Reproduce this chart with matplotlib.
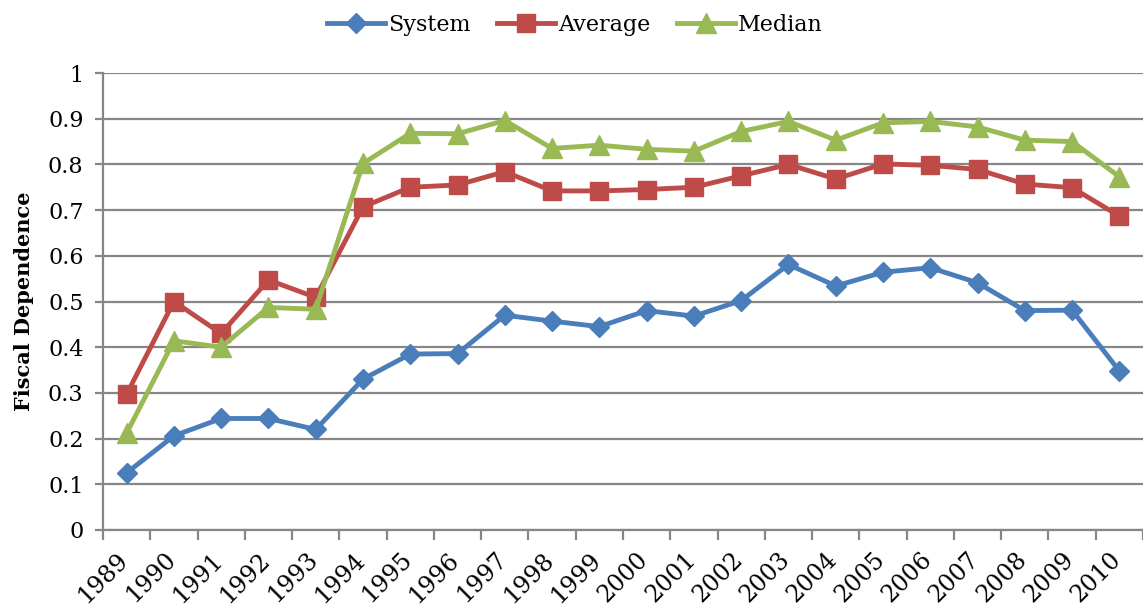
#!/usr/bin/env python3
"""Fiscal dependence 1989-2010: system, average and median (Excel-style line chart)."""
import numpy as np
import matplotlib
matplotlib.use('Agg')
import matplotlib.pyplot as plt
from matplotlib.transforms import ScaledTranslation

# data
years = [str(y) for y in range(1989, 2011)]
system = [0.125, 0.206, 0.244, 0.244, 0.220, 0.330, 0.385, 0.386, 0.470, 0.457, 0.445,
          0.480, 0.468, 0.502, 0.581, 0.534, 0.564, 0.574, 0.541, 0.480, 0.481, 0.348]
average = [0.297, 0.500, 0.430, 0.547, 0.509, 0.707, 0.750, 0.755, 0.784, 0.742, 0.742,
           0.745, 0.750, 0.775, 0.800, 0.768, 0.801, 0.798, 0.789, 0.757, 0.749, 0.687]
median = [0.212, 0.414, 0.400, 0.487, 0.483, 0.802, 0.868, 0.867, 0.896, 0.835, 0.842,
          0.833, 0.829, 0.872, 0.894, 0.853, 0.891, 0.894, 0.882, 0.853, 0.850, 0.773]
yticks = [0, 0.1, 0.2, 0.3, 0.4, 0.5, 0.6, 0.7, 0.8, 0.9, 1]
ytick_labels = ['0', '0.1', '0.2', '0.3', '0.4', '0.5', '0.6', '0.7', '0.8', '0.9', '1']

plt.rcParams['font.family'] = ['DejaVu Serif']
GRID = '#868686'

fig = plt.figure(figsize=(11.43, 6.07), dpi=100)
# plot area runs past the right edge (the reference is cropped there)
ax = fig.add_axes([103 / 1143, 77 / 607, 1040 / 1143, 457 / 607])

x = np.arange(len(years))
ax.plot(x, system, color='#4A7EBB', lw=3.5, marker='D', ms=10, label='System', zorder=3)
ax.plot(x, average, color='#BE4B48', lw=3.5, marker='s', ms=13, label='Average', zorder=3)
ax.plot(x, median, color='#98B954', lw=3.5, marker='^', ms=14, label='Median', zorder=3)

# 47.5 px per category, 1040 px of axes inside the figure
ax.set_xlim(-0.5, -0.5 + 1040 / 47.5)
ax.set_ylim(0, 1)

# y axis
ax.set_yticks(yticks)
ax.set_yticklabels(ytick_labels, fontsize=16)
ax.yaxis.grid(True, color=GRID, lw=1.6)
ax.set_axisbelow(True)
ax.tick_params(axis='y', length=6, width=1.6, color=GRID, pad=8)
ax.set_ylabel('Fiscal Dependence', fontsize=15, fontweight='bold', labelpad=10)

# x axis: labels at category centres, tick marks at boundaries
ax.set_xticks(x)
ax.set_xticklabels(years, fontsize=17, rotation=45, ha='right', va='top',
                   rotation_mode='anchor')
ax.tick_params(axis='x', which='major', length=0, pad=13)
shift = ScaledTranslation(-10 / 100, 0, fig.dpi_scale_trans)
for lbl in ax.get_xticklabels():
    lbl.set_transform(lbl.get_transform() + shift)
ax.set_xticks(np.arange(len(years) + 1) - 0.5, minor=True)
ax.tick_params(axis='x', which='minor', length=7, width=1.6, color=GRID)

for side in ['top', 'right']:
    ax.spines[side].set_visible(False)
for side in ['left', 'bottom']:
    ax.spines[side].set_color(GRID)
    ax.spines[side].set_linewidth(1.6)

fig.legend(loc='upper center', bbox_to_anchor=(0.503, 1.01), ncol=3, frameon=False,
           fontsize=16, handlelength=2.6, handletextpad=0.15, columnspacing=1.2)

fig.savefig('out.png', dpi=100)
